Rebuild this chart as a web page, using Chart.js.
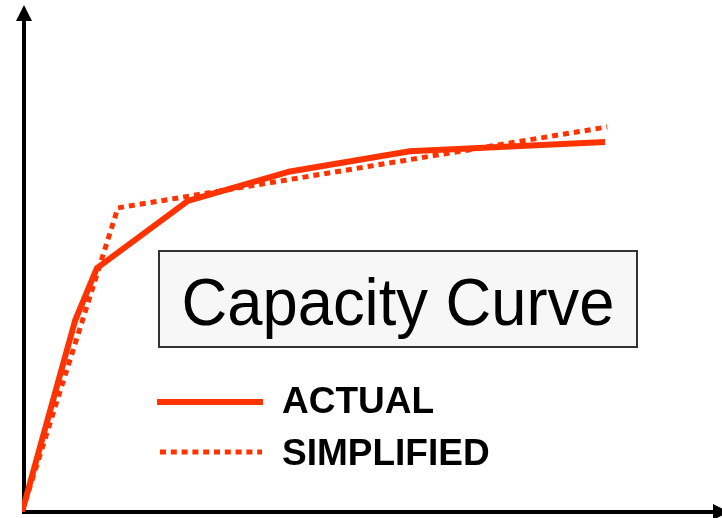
<!DOCTYPE html>
<html>
<head>
<meta charset="utf-8">
<script src="https://cdn.jsdelivr.net/npm/chart.js@4/dist/chart.umd.min.js"></script>
<style>
  html, body { margin: 0; padding: 0; background: #fff; }
  #wrap { width: 722px; height: 518px; position: relative; }
</style>
</head>
<body>
<div id="wrap"><canvas id="chart"></canvas></div>
<script>
// displacement (x) vs. base shear (y), arbitrary units 0..100
const actualX = [0, 7.6, 10.7, 23.7, 38.3, 55.4, 83.3];
const actualY = [0, 37.9, 48.2, 61.5, 67.3, 71.3, 73.1];
const simplifiedX = [0, 13.7, 83.6];
const simplifiedY = [0, 60.1, 76.1];
const seriesNames = ['ACTUAL', 'SIMPLIFIED'];
const chartTitle = 'Capacity Curve';

const RED = '#ff3300';
const toPoints = (xs, ys) => xs.map((x, i) => ({ x, y: ys[i] }));

// axes with arrow heads, title box and legend drawn on top of the plot
const decorations = {
  id: 'decorations',
  beforeDatasetsDraw(chart) {
    const { ctx } = chart;
    const xs = chart.scales.x, ys = chart.scales.y;
    const ox = xs.getPixelForValue(0) + 2;
    const oy = ys.getPixelForValue(0);
    ctx.save();
    ctx.strokeStyle = '#000';
    ctx.fillStyle = '#000';
    ctx.lineWidth = 4;
    ctx.beginPath();
    ctx.moveTo(ox, oy + 2);
    ctx.lineTo(ox, 20);
    ctx.moveTo(ox, oy);
    ctx.lineTo(714, oy);
    ctx.stroke();
    // y arrow
    ctx.beginPath();
    ctx.moveTo(ox, 5);
    ctx.lineTo(ox - 8, 21);
    ctx.lineTo(ox + 8, 21);
    ctx.closePath();
    ctx.fill();
    // x arrow
    ctx.beginPath();
    ctx.moveTo(729, oy);
    ctx.lineTo(713, oy - 8);
    ctx.lineTo(713, oy + 8);
    ctx.closePath();
    ctx.fill();
    ctx.restore();
  },
  afterDraw(chart) {
    const { ctx } = chart;
    ctx.save();
    // title box
    ctx.fillStyle = '#f7f7f7';
    ctx.fillRect(158, 250, 480, 98);
    ctx.strokeStyle = '#333';
    ctx.lineWidth = 2;
    ctx.strokeRect(159, 251, 478, 96);
    ctx.fillStyle = '#000';
    ctx.font = '67px "Liberation Sans", Arial, sans-serif';
    ctx.textAlign = 'center';
    ctx.textBaseline = 'alphabetic';
    ctx.fillText(chartTitle, 398, 325, 433);

    // legend
    ctx.lineCap = 'butt';
    ctx.strokeStyle = RED;
    ctx.lineWidth = 6;
    ctx.beginPath();
    ctx.moveTo(157, 402);
    ctx.lineTo(263, 402);
    ctx.stroke();
    ctx.lineWidth = 5;
    ctx.setLineDash([6, 4.8]);
    ctx.beginPath();
    ctx.moveTo(160, 452);
    ctx.lineTo(262, 452);
    ctx.stroke();
    ctx.setLineDash([]);
    ctx.fillStyle = '#000';
    ctx.font = 'bold 37px "Liberation Sans", Arial, sans-serif';
    ctx.textAlign = 'left';
    ctx.fillText(seriesNames[0], 282, 413);
    ctx.fillText(seriesNames[1], 282, 465);
    ctx.restore();
  }
};

new Chart(document.getElementById('chart'), {
  type: 'line',
  data: {
    datasets: [
      {
        label: seriesNames[0],
        data: toPoints(actualX, actualY),
        borderColor: RED,
        borderWidth: 6,
        pointRadius: 0,
        tension: 0,
        borderJoinStyle: 'round',
      },
      {
        label: seriesNames[1],
        data: toPoints(simplifiedX, simplifiedY),
        borderColor: RED,
        borderWidth: 5,
        borderDash: [6, 5],
        pointRadius: 0,
        tension: 0,
      },
    ],
  },
  options: {
    responsive: true,
    maintainAspectRatio: false,
    animation: false,
    layout: { padding: { left: 22, right: 0, top: 6, bottom: 6 } },
    plugins: { legend: { display: false }, tooltip: { enabled: false } },
    scales: {
      x: { type: 'linear', min: 0, max: 100, display: false },
      y: { type: 'linear', min: 0, max: 100, display: false },
    },
  },
  plugins: [decorations],
});
</script>
</body>
</html>
